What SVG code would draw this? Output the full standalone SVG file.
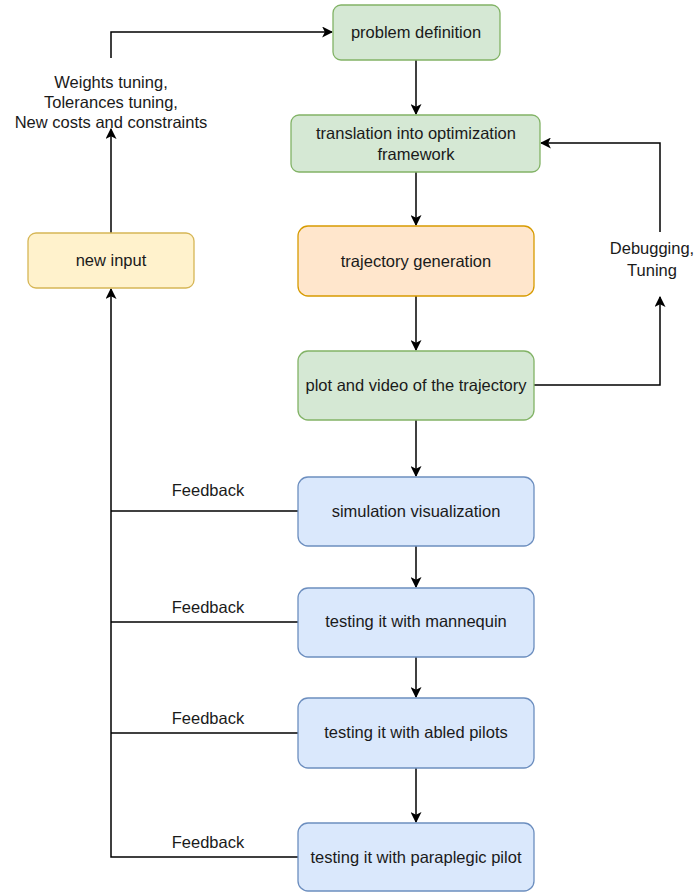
<svg xmlns="http://www.w3.org/2000/svg" width="694" height="893" viewBox="0 0 694 893">
<style>
.n rect{stroke-width:1.3}
.g rect{fill:#d5e8d4;stroke:#82b366}
.o rect{fill:#ffe6cc;stroke:#d79b00}
.y rect{fill:#fff2cc;stroke:#d6b656}
.b rect{fill:#dae8fc;stroke:#6c8ebf}
text{font-family:"Liberation Sans",Arial,sans-serif;font-size:16.5px;fill:#1a1a1a;text-anchor:middle;dominant-baseline:central}
.c path{fill:none;stroke:#000;stroke-width:1.5}
</style>
<defs>
<marker id="a" viewBox="0 0 10 10" refX="9" refY="5" markerWidth="11" markerHeight="11" markerUnits="userSpaceOnUse" orient="auto">
<path d="M0,0 L10,5 L0,10 L2.5,5 Z" fill="#000"/>
</marker>
</defs>
<rect width="694" height="893" fill="#fff"/>
<g class="c">
<path d="M416,60 V114" marker-end="url(#a)"/>
<path d="M416,172 V225" marker-end="url(#a)"/>
<path d="M416,296 V350" marker-end="url(#a)"/>
<path d="M416,420 V476" marker-end="url(#a)"/>
<path d="M416,546 V587" marker-end="url(#a)"/>
<path d="M416,657 V697" marker-end="url(#a)"/>
<path d="M416,768 V822" marker-end="url(#a)"/>
<path d="M534,385 H660 V297" marker-end="url(#a)"/>
<path d="M660,232 V143 H541" marker-end="url(#a)"/>
<path d="M111,233 V129" marker-end="url(#a)"/>
<path d="M111,58 V32 H332" marker-end="url(#a)"/>
<path d="M298,511 H111"/>
<path d="M298,622 H111"/>
<path d="M298,733 H111"/>
<path d="M298,857 H111 V289" marker-end="url(#a)"/>
</g>
<g id="labels">
<text x="111" y="82">Weights tuning,</text>
<text x="111" y="102">Tolerances tuning,</text>
<text x="111" y="122">New costs and constraints</text>
<text x="652" y="248">Debugging,</text>
<text x="652" y="270">Tuning</text>
<text x="208" y="490">Feedback</text>
<text x="208" y="607">Feedback</text>
<text x="208" y="718">Feedback</text>
<text x="208" y="842">Feedback</text>
</g>
<g id="problem" class="n g"><rect x="333" y="5" width="167" height="55" rx="8"/><text x="416" y="32">problem definition</text></g>
<g id="translation" class="n g"><rect x="291" y="115" width="249" height="57" rx="8"/><text x="416" y="133">translation into optimization</text><text x="416" y="154">framework</text></g>
<g id="trajectory" class="n o"><rect x="298" y="226" width="236" height="70" rx="10"/><text x="416" y="261">trajectory generation</text></g>
<g id="newinput" class="n y"><rect x="28" y="233" width="166" height="55" rx="8"/><text x="111" y="260">new input</text></g>
<g id="plot" class="n g"><rect x="298" y="351" width="236" height="69" rx="10"/><text x="416" y="385">plot and video of the trajectory</text></g>
<g id="simulation" class="n b"><rect x="298" y="477" width="236" height="69" rx="10"/><text x="416" y="511">simulation visualization</text></g>
<g id="mannequin" class="n b"><rect x="298" y="588" width="236" height="69" rx="10"/><text x="416" y="621">testing it with mannequin</text></g>
<g id="abled" class="n b"><rect x="298" y="698" width="236" height="70" rx="10"/><text x="416" y="732">testing it with abled pilots</text></g>
<g id="paraplegic" class="n b"><rect x="298" y="823" width="236" height="68" rx="10"/><text x="416" y="857">testing it with paraplegic pilot</text></g>
</svg>
